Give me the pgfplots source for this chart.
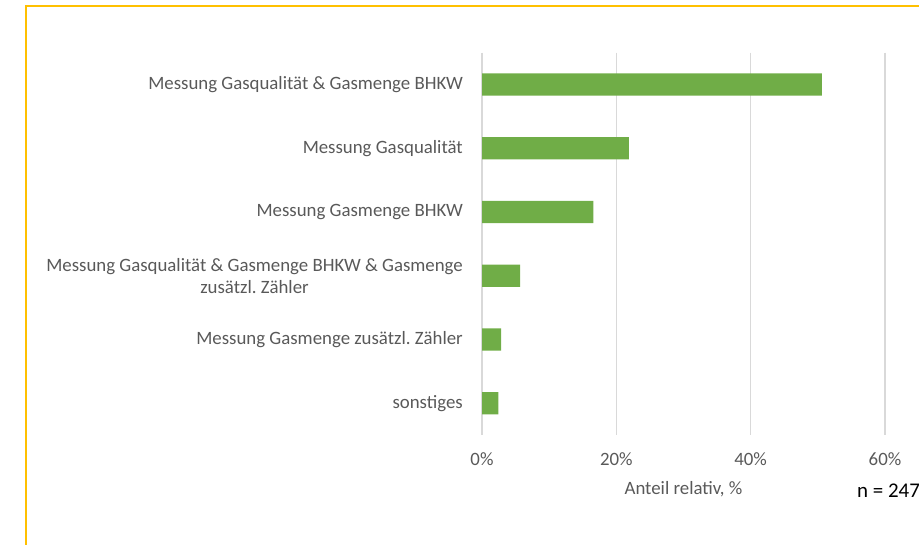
\documentclass[border=0pt]{standalone}
\usepackage{fontspec}
\setmainfont{Carlito}
\usepackage{pgfplots}
\pgfplotsset{compat=1.18}
\definecolor{bargreen}{HTML}{70AD47}
\definecolor{txtgrey}{HTML}{595959}
\definecolor{gridgrey}{HTML}{D9D9D9}
\definecolor{frameyellow}{HTML}{FFC000}
\frenchspacing
\begin{document}
\begin{tikzpicture}
\path[use as bounding box] (0,0) rectangle (919bp,545bp);
\draw[frameyellow, line width=2bp] (26bp,-2bp) -- (26bp,539bp) -- (925bp,539bp);
\begin{axis}[
  at={(482bp,109.8bp)}, anchor=south west,
  scale only axis, width=403bp, height=382.6bp,
  xbar, bar width=22.3bp,
  xmin=0, xmax=60,
  ymin=-0.5, ymax=5.5, y dir=reverse,
  axis line style={draw=none},
  major tick length=0pt,
  xtick={0,20,40,60},
  xticklabels={0\%,20\%,40\%,60\%},
  xmajorgrids, grid style={gridgrey, line width=1.3bp},
  ytick={0,1,2,3,4,5},
  yticklabels={
    {Messung Gasqualität \& Gasmenge BHKW},
    {Messung Gasqualität},
    {Messung Gasmenge BHKW},
    {Messung Gasqualität \& Gasmenge BHKW \& Gasmenge\\zusätzl.\ Zähler},
    {Messung Gasmenge zusätzl.\ Zähler},
    {sonstiges}},
  yticklabel style={font=\fontsize{18.9}{22.5}\selectfont, text=txtgrey, align=center, anchor=east, inner sep=0pt, xshift=-19bp},
  xticklabel style={font=\fontsize{18.9}{22.5}\selectfont, text=txtgrey, anchor=base, inner sep=0pt, yshift=-30bp},
  xlabel={Anteil relativ, \%},
  xlabel style={font=\fontsize{18.9}{22.5}\selectfont, text=txtgrey, at={(axis description cs:0.5,0)}, anchor=base, inner sep=0pt, yshift=-59bp},
  clip=false,
]
\addplot[fill=bargreen, draw=none] coordinates {
  (50.61,0) (21.86,1) (16.60,2) (5.67,3) (2.83,4) (2.43,5)
};
\end{axis}
\node[anchor=base west, inner sep=0pt, font=\fontsize{21}{25}\selectfont, text=black] at (857bp,47bp) {n = 247};
\end{tikzpicture}
\end{document}
